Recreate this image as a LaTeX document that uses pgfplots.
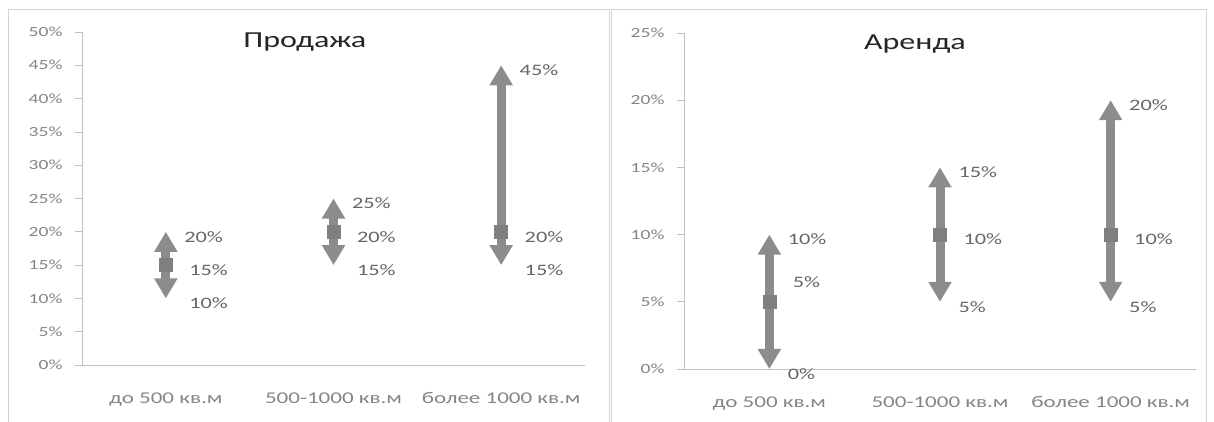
\documentclass[border=0pt]{standalone}
\usepackage{fontspec}
\setmainfont{Carlito}[FakeStretch=1.4]
\usepackage{pgfplots}
\pgfplotsset{compat=1.18}
\usetikzlibrary{arrows.meta}

\definecolor{arrowgray}{HTML}{8C8C8C}
\definecolor{markgray}{HTML}{7F7F7F}
\definecolor{axisgray}{HTML}{C0C0C0}
\definecolor{framegray}{HTML}{D4D4D4}
\definecolor{ticktext}{HTML}{858585}
\definecolor{labeltext}{HTML}{666666}

\pgfplotsset{
  panel/.style={
    scale only axis,
    anchor=south west,
    axis x line=bottom, axis y line=left,
    axis line style={-, draw=axisgray, line width=0.8bp},
    xmin=-0.5, xmax=2.5,
    xtick={0,1,2},
    xticklabels={до 500 кв.м, 500-1000 кв.м, более 1000 кв.м},
    major x tick style={draw=none},
    extra x ticks={0.5,1.5,2.5},
    extra x tick labels={,,},
    extra x tick style={major tick length=6bp, tick align=outside,
      tick style={draw=axisgray, line width=0.8bp}},
    xticklabel style={font=\fontsize{16.5}{18}\selectfont, text=ticktext, yshift=-17bp},
    ymin=0,
    tick align=outside,
    major tick length=7bp,
    y tick style={draw=axisgray, line width=0.8bp},
    /pgf/number format/assume math mode=true,
    yticklabel={\pgfmathprintnumber{\tick}\%},
    yticklabel style={font=\fontsize{14}{16}\selectfont, text=ticktext, xshift=-9bp},
    title style={font=\fontsize{23}{26}\selectfont, text=black!85, anchor=center},
    clip=false,
  },
  range/.style={arrowgray, line width=9bp, line cap=butt,
    {Triangle[width=22bp,length=20bp]}-{Triangle[width=22bp,length=20bp]}},
  mid/.style={only marks, mark=square*, mark size=6.5bp,
    mark options={draw=markgray, fill=markgray}},
  lab/.style={draw=none, mark=none, point meta=explicit,
    nodes near coords={\pgfmathprintnumber{\pgfplotspointmeta}\%},
    nodes near coords style={anchor=west, xshift=#1, yshift=-5bp,
      font=\fontsize{16}{18}\selectfont, text=labeltext}},
}

\begin{document}
\begin{tikzpicture}
\useasboundingbox (0,0) rectangle (1214bp,422bp);
\draw[framegray, line width=1bp] (8bp,-2bp) -- (8bp,412bp) -- (609bp,412bp) -- (609bp,-2bp);
\draw[framegray, line width=1bp] (611bp,-2bp) -- (611bp,412bp) -- (1206bp,412bp) -- (1206bp,-2bp);

% Продажа
\begin{axis}[panel, at={(82bp,57bp)}, width=503bp, height=333bp,
  ymax=50, ytick={0,5,...,50},
  title={Продажа}, title style={at={(0.443,0.952)}}]
\addplot[range] coordinates {(0,10) (0,20)};
\addplot[range] coordinates {(1,15) (1,25)};
\addplot[range] coordinates {(2,15) (2,45)};
\addplot[mid] coordinates {(0,15) (1,20) (2,20)};
% labels: max, mid, min
\addplot[lab=15bp] coordinates {(0,20) [20] (1,25) [25] (2,45) [45]};
\addplot[lab=20bp] coordinates {(0,15) [15] (1,20) [20] (2,20) [20]};
\addplot[lab=20bp] coordinates {(0,10) [10] (1,15) [15] (2,15) [15]};
\end{axis}

% Аренда
\begin{axis}[panel, at={(684bp,53bp)}, width=512bp, height=336bp,
  ymax=25, ytick={0,5,...,25},
  title={Аренда}, title style={at={(0.451,0.949)}}]
\addplot[range] coordinates {(0,0) (0,10)};
\addplot[range] coordinates {(1,5) (1,15)};
\addplot[range] coordinates {(2,5) (2,20)};
\addplot[mid] coordinates {(0,5) (1,10) (2,10)};
\addplot[lab=15bp] coordinates {(0,10) [10] (1,15) [15] (2,20) [20]};
\addplot[lab=20bp] coordinates {(0,6.8) [5] (1,10) [10] (2,10) [10]};
\addplot[lab=15bp] coordinates {(0,0) [0] (1,5) [5] (2,5) [5]};
\end{axis}
\end{tikzpicture}
\end{document}
